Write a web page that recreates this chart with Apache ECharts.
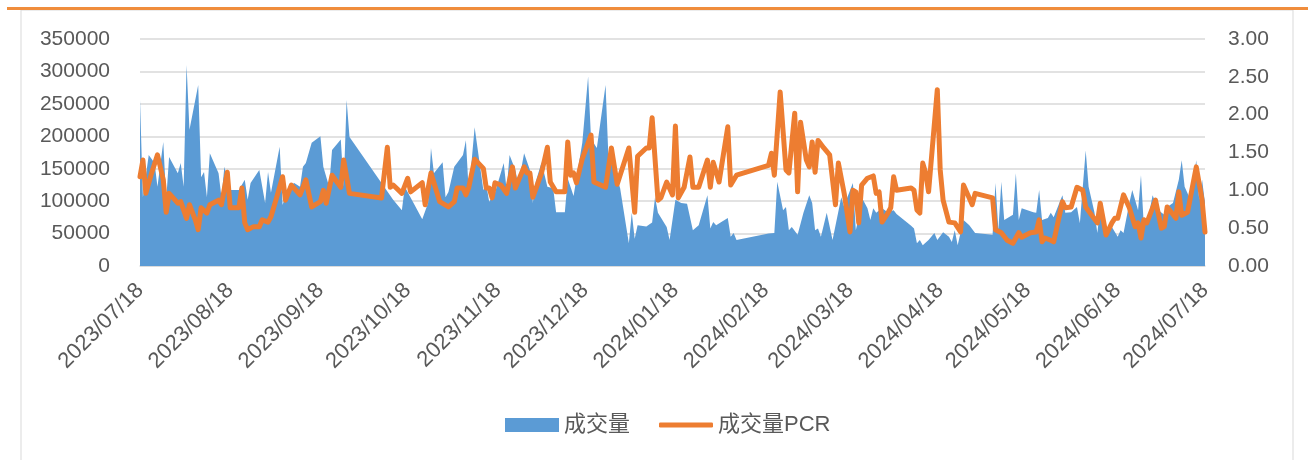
<!DOCTYPE html>
<html>
<head>
<meta charset="utf-8">
<script src="https://cdn.jsdelivr.net/npm/echarts@6/dist/echarts.min.js"></script>
<style>
html,body{margin:0;padding:0;background:#fff;}
#chart{width:1308px;height:460px;}
</style>
</head>
<body>
<div id="chart"></div>
<script>
// ---- data ----
const tickLabels = ['2023/07/18','2023/08/18','2023/09/18','2023/10/18','2023/11/18','2023/12/18','2024/01/18','2024/02/18','2024/03/18','2024/04/18','2024/05/18','2024/06/18','2024/07/18'];

const volDates = [
'2023-07-18','2023-07-19','2023-07-21','2023-07-23','2023-07-24','2023-07-26','2023-07-27','2023-07-28','2023-07-31',
'2023-08-01','2023-08-02','2023-08-03','2023-08-04','2023-08-07','2023-08-08','2023-08-09','2023-08-10','2023-08-11','2023-08-14','2023-08-15','2023-08-16','2023-08-18','2023-08-21','2023-08-23','2023-08-24','2023-08-25','2023-08-28','2023-08-30','2023-08-31',
'2023-09-01','2023-09-04','2023-09-05','2023-09-07','2023-09-09','2023-09-11','2023-09-12','2023-09-13','2023-09-15','2023-09-18','2023-09-19','2023-09-21','2023-09-22','2023-09-25','2023-09-26','2023-09-27','2023-09-28',
'2023-10-09','2023-10-13','2023-10-16','2023-10-17','2023-10-20','2023-10-23','2023-10-25','2023-10-26','2023-10-27','2023-10-30','2023-10-31',
'2023-11-01','2023-11-03','2023-11-06','2023-11-07','2023-11-08','2023-11-10','2023-11-13','2023-11-14','2023-11-15','2023-11-17','2023-11-20','2023-11-21','2023-11-22','2023-11-24','2023-11-25','2023-11-27','2023-11-29','2023-11-30',
'2023-12-01','2023-12-03','2023-12-05','2023-12-07','2023-12-08','2023-12-11','2023-12-12','2023-12-14','2023-12-17','2023-12-19','2023-12-20','2023-12-22','2023-12-25','2023-12-26','2023-12-28','2023-12-30',
'2024-01-02','2024-01-03','2024-01-04','2024-01-05','2024-01-08','2024-01-10','2024-01-11','2024-01-12','2024-01-15','2024-01-16','2024-01-18','2024-01-20','2024-01-22','2024-01-24','2024-01-26','2024-01-29','2024-01-30','2024-01-31',
'2024-02-01','2024-02-05','2024-02-06','2024-02-07','2024-02-08','2024-02-19','2024-02-21','2024-02-22','2024-02-24','2024-02-25','2024-02-26','2024-02-27','2024-02-29',
'2024-03-02','2024-03-04','2024-03-05','2024-03-06','2024-03-07','2024-03-08','2024-03-10','2024-03-12','2024-03-15','2024-03-16','2024-03-17','2024-03-19','2024-03-20','2024-03-21','2024-03-22','2024-03-24','2024-03-25','2024-03-26','2024-03-27','2024-03-29','2024-03-31',
'2024-04-02','2024-04-03','2024-04-08','2024-04-09','2024-04-10','2024-04-11','2024-04-12','2024-04-14','2024-04-16','2024-04-17','2024-04-19','2024-04-21','2024-04-22','2024-04-23','2024-04-24','2024-04-26','2024-04-28','2024-04-30',
'2024-05-06','2024-05-07','2024-05-08','2024-05-09','2024-05-10','2024-05-13','2024-05-14','2024-05-15','2024-05-16','2024-05-20','2024-05-21','2024-05-22','2024-05-23','2024-05-25','2024-05-26','2024-05-27','2024-05-30','2024-05-31',
'2024-06-02','2024-06-04','2024-06-05','2024-06-07','2024-06-08','2024-06-10','2024-06-11','2024-06-12','2024-06-14','2024-06-16','2024-06-18','2024-06-19','2024-06-20','2024-06-22','2024-06-23','2024-06-25','2024-06-26','2024-06-27','2024-06-29','2024-06-30',
'2024-07-02','2024-07-04','2024-07-05','2024-07-07','2024-07-09','2024-07-10','2024-07-11','2024-07-13','2024-07-15','2024-07-16','2024-07-17','2024-07-18'
];
const volValues = [
256000,106000,171000,159000,122000,191000,102000,168000,143000,
159000,122000,310000,210000,279000,137000,145000,106000,174000,143000,106000,153000,117000,117000,133000,102000,128000,148000,97000,145000,
113000,184000,94000,122000,128000,122000,153000,159000,190000,200000,153000,122000,179000,195000,122000,256000,199000,
128000,102000,86000,122000,97000,72000,97000,182000,143000,160000,106000,
114000,153000,171000,194000,113000,214000,117000,125000,99000,113000,159000,117000,171000,148000,125000,174000,148000,97000,
130000,160000,122000,120000,83000,83000,135000,108000,190000,292000,196000,182000,279000,165000,150000,120000,
35000,82000,42000,63000,61000,67000,106000,82000,60000,40000,102000,97000,96000,55000,63000,109000,58000,68000,
63000,74000,45000,51000,40000,50000,51000,130000,86000,91000,55000,60000,48000,
82000,109000,97000,55000,58000,45000,82000,40000,106000,91000,105000,128000,55000,75000,106000,89000,71000,89000,82000,89000,83000,
86000,80000,62000,58000,35000,40000,32000,40000,51000,40000,52000,45000,37000,55000,32000,71000,63000,51000,
48000,128000,55000,130000,71000,79000,143000,71000,89000,83000,82000,117000,71000,74000,82000,75000,109000,82000,
83000,91000,66000,178000,122000,83000,51000,91000,55000,60000,45000,55000,51000,97000,117000,86000,140000,60000,86000,109000,
86000,79000,91000,97000,133000,163000,122000,102000,163000,102000,133000,97000
];

const pcrDates = [
'2023-07-18','2023-07-19','2023-07-20','2023-07-22','2023-07-24','2023-07-26','2023-07-27','2023-07-28','2023-07-31',
'2023-08-01','2023-08-03','2023-08-04','2023-08-06','2023-08-07','2023-08-08','2023-08-10','2023-08-11','2023-08-13','2023-08-14','2023-08-15','2023-08-17','2023-08-18','2023-08-21','2023-08-22','2023-08-23','2023-08-24','2023-08-26','2023-08-28','2023-08-29','2023-08-31',
'2023-09-01','2023-09-03','2023-09-05','2023-09-06','2023-09-08','2023-09-11','2023-09-13','2023-09-15','2023-09-18','2023-09-19','2023-09-20','2023-09-22','2023-09-25','2023-09-26','2023-09-28',
'2023-10-09','2023-10-11','2023-10-12','2023-10-13','2023-10-16','2023-10-18','2023-10-19','2023-10-23','2023-10-24','2023-10-26','2023-10-29',
'2023-11-01','2023-11-03','2023-11-04','2023-11-06','2023-11-07','2023-11-08','2023-11-10','2023-11-13','2023-11-14','2023-11-15','2023-11-16','2023-11-17','2023-11-19','2023-11-21','2023-11-23','2023-11-24','2023-11-27','2023-11-28','2023-11-29','2023-11-30',
'2023-12-03','2023-12-05','2023-12-06','2023-12-08','2023-12-11','2023-12-12','2023-12-13','2023-12-14','2023-12-15','2023-12-17','2023-12-20','2023-12-21','2023-12-25','2023-12-27','2023-12-29',
'2024-01-02','2024-01-04','2024-01-05','2024-01-08','2024-01-09','2024-01-10','2024-01-12','2024-01-13','2024-01-15','2024-01-17','2024-01-18','2024-01-19','2024-01-21','2024-01-23','2024-01-24','2024-01-26','2024-01-29','2024-01-30','2024-01-31',
'2024-02-02','2024-02-05','2024-02-06','2024-02-08','2024-02-19','2024-02-20','2024-02-21','2024-02-23','2024-02-25','2024-02-26','2024-02-28','2024-02-29',
'2024-03-01','2024-03-03','2024-03-04','2024-03-05','2024-03-06','2024-03-07','2024-03-09','2024-03-11','2024-03-13','2024-03-14','2024-03-16','2024-03-18','2024-03-19','2024-03-20','2024-03-21','2024-03-22','2024-03-24','2024-03-26','2024-03-27','2024-03-28','2024-03-29','2024-03-31',
'2024-04-01','2024-04-02','2024-04-03','2024-04-08','2024-04-09','2024-04-10','2024-04-11','2024-04-12','2024-04-13','2024-04-14','2024-04-17','2024-04-18','2024-04-19','2024-04-21','2024-04-23','2024-04-25','2024-04-26','2024-04-29','2024-04-30',
'2024-05-06','2024-05-07','2024-05-09','2024-05-11','2024-05-13','2024-05-15','2024-05-16','2024-05-19','2024-05-21','2024-05-22','2024-05-23','2024-05-24','2024-05-26','2024-05-27','2024-05-30','2024-05-31',
'2024-06-02','2024-06-04','2024-06-06','2024-06-07','2024-06-11','2024-06-12','2024-06-14','2024-06-16','2024-06-17','2024-06-18','2024-06-20','2024-06-22','2024-06-24','2024-06-25','2024-06-26','2024-06-27','2024-06-28',
'2024-07-01','2024-07-03','2024-07-04','2024-07-05','2024-07-08','2024-07-09','2024-07-10','2024-07-12','2024-07-15','2024-07-17','2024-07-18'
];
const pcrValues = [
1.18,1.40,0.96,1.23,1.47,1.14,0.71,0.96,0.83,
0.85,0.63,0.81,0.61,0.48,0.77,0.70,0.81,0.85,0.87,0.81,1.24,0.77,0.77,1.03,0.57,0.48,0.52,0.52,0.61,0.58,
0.65,0.91,1.18,0.87,1.07,0.94,1.14,0.78,0.85,1.00,0.83,1.20,1.04,1.40,0.96,
0.90,1.57,1.04,1.07,0.96,1.16,0.98,1.10,0.81,1.23,0.85,
0.78,0.85,1.03,1.03,0.94,1.04,1.41,1.29,1.03,1.03,0.90,1.10,1.07,0.96,1.31,1.03,1.31,1.23,1.23,0.91,
1.23,1.57,1.11,0.98,0.98,1.64,1.20,1.23,1.10,1.42,1.73,1.11,1.04,1.56,1.08,
1.56,0.71,1.45,1.56,1.56,1.96,0.87,0.90,1.11,0.94,1.85,0.90,1.04,1.44,1.04,1.04,1.40,1.04,1.37,
1.11,1.84,1.07,1.20,1.33,1.49,1.20,2.30,1.27,1.23,2.02,0.98,
1.90,1.40,1.31,1.64,1.24,1.66,1.56,1.47,0.81,1.36,0.96,0.45,1.00,0.98,0.57,1.07,1.16,1.19,0.96,0.98,0.58,0.70,
0.77,1.18,1.00,1.03,1.00,0.74,0.70,1.36,1.23,0.98,2.33,1.27,0.87,0.58,0.57,0.45,1.07,0.81,0.96,
0.90,0.48,0.44,0.34,0.30,0.44,0.38,0.44,0.45,0.61,0.32,0.37,0.34,0.32,0.85,0.77,
0.78,1.04,1.00,0.78,0.57,0.83,0.41,0.57,0.63,0.63,0.94,0.77,0.52,0.57,0.37,0.61,0.57,
0.87,0.50,0.52,0.78,0.63,0.98,0.67,0.71,1.31,0.87,0.45
];

// ---- chart ----
function toTime(s){ const p = s.split(/[\/-]/); return new Date(+p[0], +p[1]-1, +p[2]).getTime(); }
const tickTimes = tickLabels.map(toTime);
const FONT = "'Liberation Sans','Noto Sans CJK SC',sans-serif";
const GRAY = '#595959';

const chart = echarts.init(document.getElementById('chart'), null, {renderer:'canvas'});
chart.setOption({
  animation: false,
  backgroundColor: '#ffffff',
  textStyle: {fontFamily: FONT},
  graphic: [
    {type:'rect', shape:{x:21, y:10, width:1272, height:460}, style:{fill:'none', stroke:'#d9d9d9', lineWidth:1}, silent:true},
    {type:'rect', shape:{x:7, y:7, width:1301, height:3}, style:{fill:'#F08D3C'}, silent:true}
  ],
  grid: {left:140, right:103, top:39, bottom:194, containLabel:false},
  legend: [
    {data:[{name:'成交量', icon:'rect'}], left:500, top:409, itemWidth:54, itemHeight:14,
     textStyle:{fontSize:22, color:GRAY, fontFamily:FONT}},
    {data:[{name:'成交量PCR', icon:'roundRect'}], left:654, top:409, itemWidth:54, itemHeight:5,
     textStyle:{fontSize:22, color:GRAY, fontFamily:FONT}}
  ],
  xAxis: {
    type:'value',
    min: tickTimes[0],
    max: tickTimes[tickTimes.length-1],
    axisLine:{show:true, lineStyle:{color:'#d9d9d9', width:1.5}},
    axisTick:{show:false},
    splitLine:{show:false},
    axisLabel:{
      customValues: tickTimes,
      rotate:45, margin:21, fontSize:22, color:GRAY, fontFamily:FONT,
      formatter: function(v){
        let best = 0;
        for (let i = 1; i < tickTimes.length; i++) if (Math.abs(tickTimes[i]-v) < Math.abs(tickTimes[best]-v)) best = i;
        return tickLabels[best];
      }
    }
  },
  yAxis: [
    {type:'value', min:0, max:350000, interval:50000, position:'left',
     axisLine:{show:false}, axisTick:{show:false},
     splitLine:{lineStyle:{color:'#d9d9d9', width:1.5}},
     axisLabel:{fontSize:21, color:GRAY, margin:30, fontFamily:FONT, formatter: v => String(v)}},
    {type:'value', min:0, max:3, interval:0.5, position:'right',
     axisLine:{show:false}, axisTick:{show:false}, splitLine:{show:false},
     axisLabel:{fontSize:21, color:GRAY, margin:23, fontFamily:FONT,
       formatter: v => v.toFixed(2)}}
  ],
  series: [
    {name:'成交量', type:'line', yAxisIndex:0, symbol:'none',
     data: volDates.map((d,i)=>[toTime(d), volValues[i]]),
     lineStyle:{width:0, color:'#5B9BD5'}, itemStyle:{color:'#5B9BD5'},
     areaStyle:{color:'#5B9BD5', opacity:1}, z:1},
    {name:'成交量PCR', type:'line', yAxisIndex:1, symbol:'none',
     data: pcrDates.map((d,i)=>[toTime(d), pcrValues[i]]),
     lineStyle:{width:5, color:'#ED7D31', join:'round', cap:'round'},
     itemStyle:{color:'#ED7D31'}, z:2}
  ]
});
</script>
</body>
</html>
